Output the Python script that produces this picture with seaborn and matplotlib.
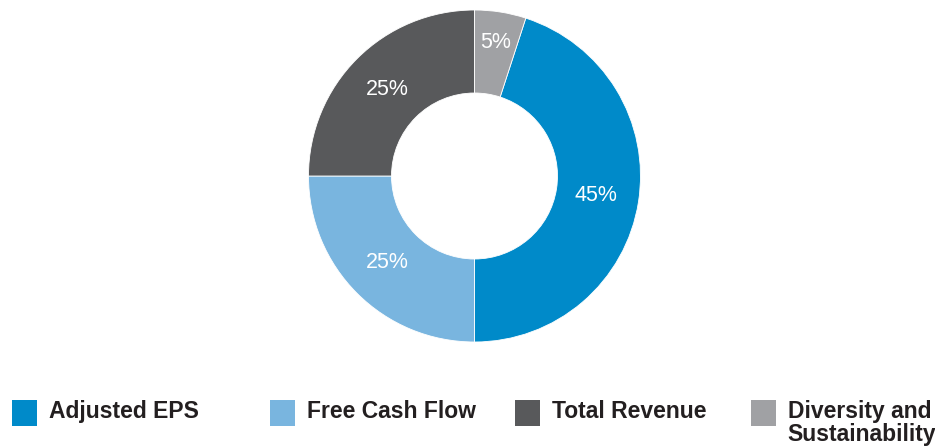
import matplotlib
matplotlib.use("Agg")
import matplotlib.pyplot as plt
import matplotlib.patches as mpatches
import seaborn as sns

# data
categories = ["Adjusted EPS", "Free Cash Flow", "Total Revenue", "Diversity and\nSustainability"]
weights = [45, 25, 25, 5]
colors = ["#008AC9", "#79B5DF", "#58595B", "#A0A1A4"]

sns.set_theme(style="white")
plt.rcParams['font.family'] = ['Liberation Sans', 'DejaVu Sans']

fig = plt.figure(figsize=(9.35, 4.47), dpi=100)
W, H = 935, 447
cx, cy, r = 474.5, 176, 166
ax = fig.add_axes([(cx - r) / W, (H - cy - r) / H, 2 * r / W, 2 * r / H])

start = 90 - weights[-1] / sum(weights) * 360
wedges, texts, autotexts = ax.pie(
    weights, colors=colors, startangle=start, counterclock=False,
    radius=1, wedgeprops=dict(width=0.5, edgecolor="white", linewidth=0.6),
    autopct=lambda p: f"{p:.0f}%", pctdistance=0.74,
    textprops=dict(color="white", fontsize=15.5))
# small slice label sits further out
x, y = autotexts[-1].get_position()
autotexts[-1].set_position((x * 1.1, y * 1.1))
ax.set_xlim(-1, 1)
ax.set_ylim(-1, 1)
ax.set_aspect("equal")
ax.axis("off")

# legend, one entry per slot
xs = [12, 270, 515, 751]
for lab, col, xp in zip(categories, colors, xs):
    h = mpatches.Patch(facecolor=col, edgecolor="none")
    leg = fig.legend([h], [lab], loc="upper left",
                     bbox_to_anchor=(xp / W, 1 - 400 / H), frameon=False,
                     handlelength=1.1, handleheight=1.4, handletextpad=0.5,
                     borderpad=0, borderaxespad=0,
                     prop=dict(weight="bold", size=16.5))
    for t in leg.get_texts():
        t.set_color("#231F20")
        t.set_linespacing(1.0)
    # keep the swatch level with the first line of the label
    for row in leg._legend_handle_box.get_children():
        for item in row.get_children():
            item.align = "top"

fig.savefig("out.png", dpi=100)
